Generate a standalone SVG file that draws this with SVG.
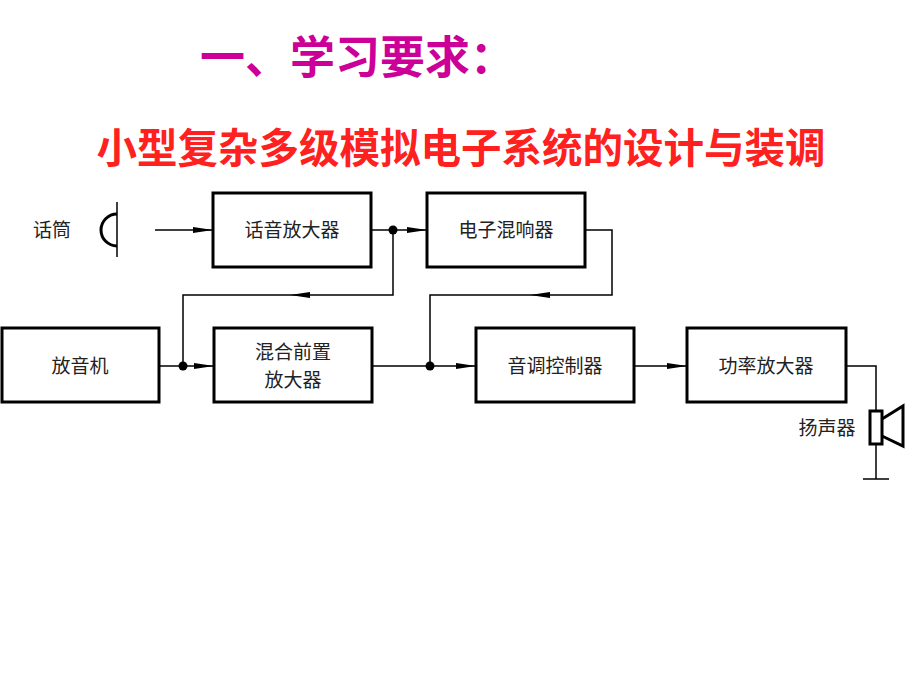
<svg xmlns="http://www.w3.org/2000/svg" width="920" height="690" viewBox="0 0 920 690">
<defs>
<style>
.b{fill:#fff;stroke:#000;stroke-width:3}
.l{fill:none;stroke:#000;stroke-width:1.5}
.t{font-family:"Liberation Sans","Noto Sans CJK SC",sans-serif;font-size:19px;fill:#222;text-anchor:middle;dominant-baseline:central}
</style>
<marker id="a" viewBox="0 0 20 8" refX="20" refY="4" markerWidth="20" markerHeight="8" markerUnits="userSpaceOnUse" orient="auto"><path d="M0,1 L20,4 L0,7 Z" fill="#000"/></marker>
</defs>
<rect width="920" height="690" fill="#fff"/>
<text x="200" y="74" font-family="'Noto Sans CJK SC',sans-serif" font-weight="bold" font-size="45" fill="#cc0099">一、学习要求：</text>
<text x="461" y="163" text-anchor="middle" font-family="'Noto Sans CJK SC',sans-serif" font-weight="bold" font-size="40.5" fill="#ff2020">小型复杂多级模拟电子系统的设计与装调</text>
<g id="connectors">
<path class="l" d="M155,230 H213" marker-end="url(#a)"/>
<path class="l" d="M371,230 H427" marker-end="url(#a)"/>
<path class="l" d="M393,230 V295 H300"/>
<path class="l" d="M300,295 H290" marker-end="url(#a)"/>
<path class="l" d="M290,295 H183 V366"/>
<path class="l" d="M585,230 H612 V295 H540"/>
<path class="l" d="M540,295 H530" marker-end="url(#a)"/>
<path class="l" d="M530,295 H430 V366"/>
<path class="l" d="M159,366 H214" marker-end="url(#a)"/>
<path class="l" d="M372,366 H476" marker-end="url(#a)"/>
<path class="l" d="M634,366 H687" marker-end="url(#a)"/>
<path class="l" d="M846,366 H876 V411 M876,444 V479 M863,479 H889"/>
<circle cx="393" cy="230" r="4.5"/>
<circle cx="183" cy="366" r="4.5"/>
<circle cx="430" cy="366" r="4.5"/>
</g>
<g id="mic">
<path d="M117,202 V257" class="l"/>
<path d="M117,214 A16,16 0 0 0 117,246" fill="none" stroke="#000" stroke-width="3"/>
<text class="t" x="52" y="230">话筒</text>
</g>
<g id="n1"><rect class="b" x="213" y="193" width="158" height="74"/><text class="t" x="292" y="230">话音放大器</text></g>
<g id="n2"><rect class="b" x="427" y="193" width="158" height="74"/><text class="t" x="506" y="230">电子混响器</text></g>
<g id="n3"><rect class="b" x="2" y="328" width="157" height="74"/><text class="t" x="80" y="366">放音机</text></g>
<g id="n4"><rect class="b" x="214" y="328" width="158" height="74"/><text class="t" x="293" y="352">混合前置</text><text class="t" x="293" y="380">放大器</text></g>
<g id="n5"><rect class="b" x="476" y="328" width="158" height="74"/><text class="t" x="555" y="366">音调控制器</text></g>
<g id="n6"><rect class="b" x="687" y="328" width="159" height="74"/><text class="t" x="766" y="366">功率放大器</text></g>
<g id="speaker">
<rect x="870" y="411" width="12" height="33" fill="#fff" stroke="#000" stroke-width="3"/>
<path d="M882,419 L903,406 V446 L882,436" fill="none" stroke="#000" stroke-width="3"/>
<text class="t" x="827" y="428">扬声器</text>
</g>
</svg>
